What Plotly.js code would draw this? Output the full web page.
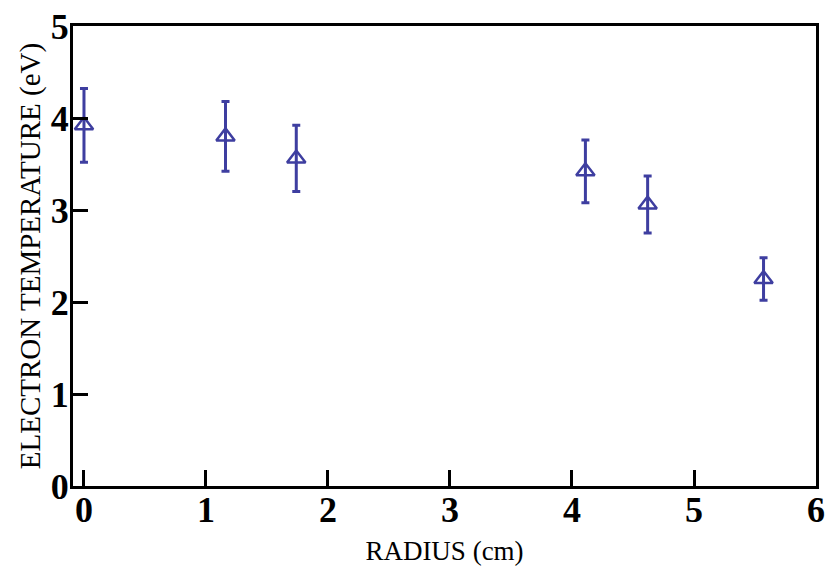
<!DOCTYPE html>
<html>
<head>
<meta charset="utf-8">
<script src="https://cdn.plot.ly/plotly-3.0.1.min.js"></script>
<style>html,body{margin:0;padding:0;background:#fff;}#chart{width:826px;height:569px;}</style>
</head>
<body>
<div id="chart"></div>
<script>
var radius = [0.0, 1.16, 1.74, 4.11, 4.62, 5.57];
var temperature = [3.92, 3.80, 3.56, 3.42, 3.06, 2.25];
var tempError = [0.40, 0.38, 0.36, 0.34, 0.31, 0.23];
var xTicks = [0, 1, 2, 3, 4, 5, 6];
var yTicks = [0, 1, 2, 3, 4, 5];

var serif = "'Liberation Serif', 'Times New Roman', serif";
var markColor = "rgb(62,62,160)";

var trace = {
  x: radius,
  y: temperature,
  type: "scatter",
  mode: "markers",
  marker: {symbol: "triangle-up-open", size: 16, color: markColor, line: {width: 2.5, color: markColor}},
  error_y: {type: "data", array: tempError, visible: true, color: markColor, thickness: 3, width: 4},
  hoverinfo: "x+y"
};

var layout = {
  width: 826,
  height: 569,
  margin: {l: 73, r: 10, t: 26, b: 83},
  paper_bgcolor: "#fff",
  plot_bgcolor: "#fff",
  showlegend: false,
  xaxis: {
    range: [-0.09, 6.0],
    tickvals: xTicks,
    ticktext: xTicks.map(String),
    ticks: "inside",
    ticklen: 16,
    tickwidth: 3,
    tickcolor: "#000",
    showline: true,
    linewidth: 3,
    linecolor: "#000",
    mirror: true,
    showgrid: false,
    zeroline: false,
    ticklabelstandoff: -10,
    tickfont: {family: serif, size: 36, color: "#000", weight: "bold"},
    title: {text: "RADIUS (cm)", font: {family: serif, size: 27, color: "#000"}, standoff: 12}
  },
  yaxis: {
    range: [0, 5],
    tickvals: yTicks,
    ticktext: yTicks.map(String),
    ticks: "inside",
    ticklen: 15,
    tickwidth: 3,
    tickcolor: "#000",
    showline: true,
    linewidth: 3,
    linecolor: "#000",
    mirror: true,
    showgrid: false,
    zeroline: false,
    ticklabelstandoff: -6,
    tickfont: {family: serif, size: 36, color: "#000", weight: "bold"},
    title: {text: "ELECTRON TEMPERATURE (eV)", font: {family: serif, size: 29, color: "#000"}, standoff: 2}
  }
};

Plotly.newPlot("chart", [trace], layout, {displayModeBar: false, staticPlot: true});
</script>
</body>
</html>
